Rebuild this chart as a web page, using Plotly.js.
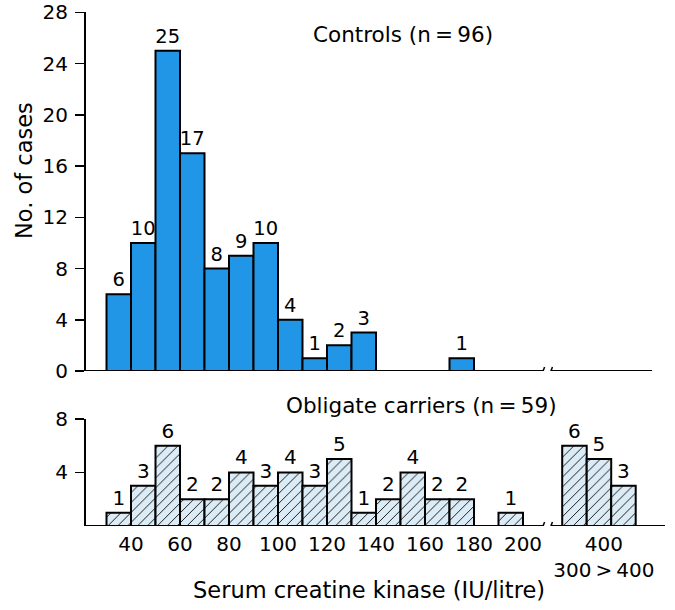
<!DOCTYPE html>
<html><head><meta charset="utf-8">
<script src="https://cdn.plot.ly/plotly-3.0.1.min.js"></script>
<style>body{margin:0;background:#fff}#chart{width:675px;height:610px}</style>
</head><body><div id="chart"></div>
<script>
// ---- data ----
const binStarts = [30,40,50,60,70,80,90,100,110,120,130,140,150,160,170,180,190];
const controlCounts = [6,10,25,17,8,9,10,4,1,2,3,0,0,0,1,0,0];
const carrierCounts = [1,3,6,2,2,4,3,4,3,5,1,2,4,2,2,0,1];
const highBinLabels = ['300','400','>400'];
const highCarrierCounts = [6,5,3];
const xTickVals = [40,60,80,100,120,140,160,180,200];
const xTickText = ['40','60','80','100','120','140','160','180','200'];
const highTickText = '400<br>300\u2009>\u2009400';
const yTopTicks = [0,4,8,12,16,20,24,28];
const yBottomTicks = [4,8];
const controlsLabel = 'Controls (n\u2009=\u200996)';
const carriersLabel = 'Obligate carriers (n\u2009=\u200959)';
const xTitle = 'Serum creatine kinase (IU/litre)';
const yTitle = 'No. of cases';

// ---- layout constants (broken axis) ----
const BIN_W = 10;
const BREAK_X = 209.8;      // axis position of the break
const HIGH_START = 216;     // first bin position after the break
const X_RANGE = [21.63, 257.96];
const TOP_LINE_END = 252.7;

const FONT = 'DejaVu Sans, Liberation Sans, Arial, sans-serif';

function nz(xs, ys) {
  const x = [], y = [];
  ys.forEach((v, i) => { if (v > 0) { x.push(xs[i]); y.push(v); } });
  return {x, y};
}
const centers = binStarts.map(b => b + BIN_W / 2);
const ctl = nz(centers, controlCounts);
const car = nz(centers, carrierCounts);
const highX = highBinLabels.map((_, i) => HIGH_START + i * BIN_W + BIN_W / 2);

const lineStyle = {color: '#000', width: 2};
const traces = [
  {
    type: 'bar', x: ctl.x, y: ctl.y, width: BIN_W, xaxis: 'x', yaxis: 'y',
    marker: {color: '#2196e6', line: lineStyle},
    text: ctl.y.map(String), textposition: 'outside', constraintext: 'none',
    cliponaxis: false, textfont: {family: FONT, size: 19.5, color: '#000'},
    hoverinfo: 'x+y', showlegend: false
  },
  {
    type: 'bar', x: car.x.concat(highX), y: car.y.concat(highCarrierCounts),
    width: BIN_W, xaxis: 'x2', yaxis: 'y2',
    marker: {color: '#dcecf7', line: lineStyle,
             pattern: {shape: '/', fgcolor: '#1a1a1a', bgcolor: '#dcecf7', size: 7, solidity: 0.14}},
    text: car.y.concat(highCarrierCounts).map(String), textposition: 'outside', constraintext: 'none',
    cliponaxis: false, textfont: {family: FONT, size: 20, color: '#000'},
    hoverinfo: 'x+y', showlegend: false
  }
];

const highTickPos = HIGH_START + 1.7 * BIN_W;

function axisLine(xref, yref, x0, x1) {
  return {type: 'line', xref, yref, x0, x1, y0: 0, y1: 0, line: {color: '#000', width: 2}, layer: 'above'};
}
function breakMark(xref, yref, xPos) {
  return {type: 'line', xref, yref, xsizemode: 'pixel', ysizemode: 'pixel',
          xanchor: xPos, yanchor: 0, x0: -1.5, x1: 1.5, y0: -4, y1: 4,
          line: {color: '#000', width: 1.5}, layer: 'above'};
}

const layout = {
  width: 675, height: 610,
  margin: {l: 86, r: 10, t: 12, b: 84},
  paper_bgcolor: '#fff', plot_bgcolor: '#fff',
  font: {family: FONT, color: '#000'},
  bargap: 0,
  xaxis: {domain: [0, 1], anchor: 'y', range: X_RANGE, showticklabels: false, ticks: '',
          showline: false, showgrid: false, zeroline: false, fixedrange: true},
  xaxis2: {domain: [0, 1], anchor: 'y2', range: X_RANGE, ticks: '',
           tickmode: 'array', tickvals: xTickVals.concat([highTickPos]),
           ticktext: xTickText.concat([highTickText]),
           tickfont: {family: FONT, size: 20, color: '#000'}, ticklabelstandoff: 4,
           ticklabeloverflow: 'allow',
           showline: false, showgrid: false, zeroline: false, fixedrange: true},
  yaxis: {domain: [0.3016, 1], anchor: 'x', range: [0, 28.03], tickmode: 'array', tickvals: yTopTicks,
          ticks: 'outside', ticklen: 9, tickwidth: 1.5, tickcolor: '#000', ticklabeloverflow: 'allow',
          showline: true, linewidth: 2, linecolor: '#000', showgrid: false, zeroline: false,
          tickfont: {family: FONT, size: 20, color: '#000'}, ticklabelstandoff: 3, fixedrange: true},
  yaxis2: {domain: [0, 0.2082], anchor: 'x2', range: [0, 8], tickmode: 'array', tickvals: yBottomTicks,
           ticks: 'outside', ticklen: 9, tickwidth: 1.5, tickcolor: '#000', ticklabeloverflow: 'allow',
           showline: true, linewidth: 2, linecolor: '#000', showgrid: false, zeroline: false,
           tickfont: {family: FONT, size: 20, color: '#000'}, ticklabelstandoff: 3, fixedrange: true},
  shapes: [
    axisLine('x', 'y', X_RANGE[0], BREAK_X - 1.6),
    axisLine('x', 'y', BREAK_X + 1.6, TOP_LINE_END),
    breakMark('x', 'y', BREAK_X - 1.6),
    breakMark('x', 'y', BREAK_X + 1.6),
    axisLine('x2', 'y2', X_RANGE[0], BREAK_X - 1.6),
    axisLine('x2', 'y2', BREAK_X + 1.6, X_RANGE[1]),
    breakMark('x2', 'y2', BREAK_X - 1.6),
    breakMark('x2', 'y2', BREAK_X + 1.6)
  ],
  annotations: [
    {text: controlsLabel, xref: 'paper', yref: 'paper', x: 0.5475, y: 0.9553,
     xanchor: 'center', yanchor: 'middle', showarrow: false, font: {family: FONT, size: 21.5, color: '#000'}},
    {text: carriersLabel, xref: 'paper', yref: 'paper', x: 0.580, y: 0.2335,
     xanchor: 'center', yanchor: 'middle', showarrow: false, font: {family: FONT, size: 21.5, color: '#000'}},
    {text: xTitle, xref: 'paper', yref: 'paper', x: 0.4888, y: -0.1245,
     xanchor: 'center', yanchor: 'middle', showarrow: false, font: {family: FONT, size: 22.5, color: '#000'}},
    {text: yTitle, xref: 'paper', yref: 'paper', x: -0.107, y: 0.6907, textangle: -90,
     xanchor: 'center', yanchor: 'middle', showarrow: false, font: {family: FONT, size: 22.5, color: '#000'}}
  ]
};

Plotly.newPlot('chart', traces, layout, {displayModeBar: false, staticPlot: true});
</script></body></html>
